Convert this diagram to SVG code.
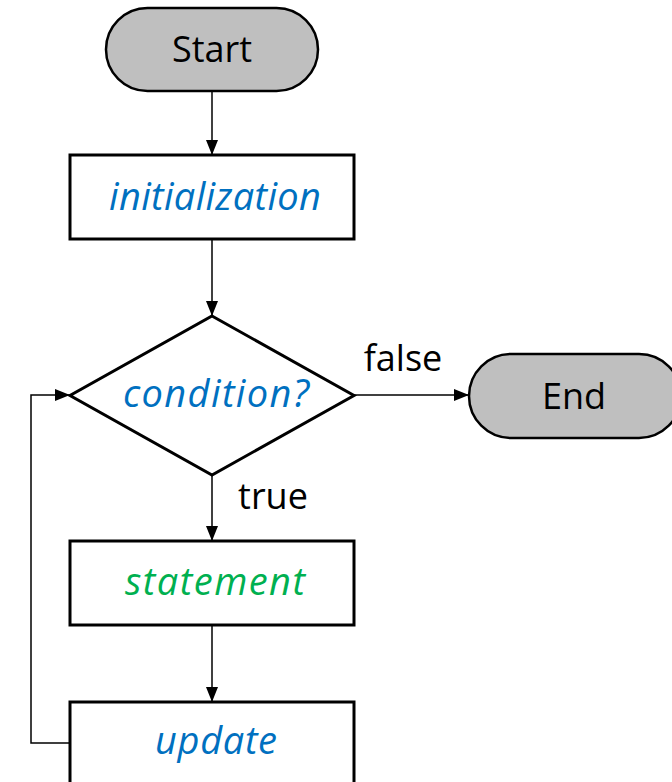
<svg xmlns="http://www.w3.org/2000/svg" width="672" height="782" viewBox="0 0 672 782">
<defs>
<marker id="arr" viewBox="0 0 15 12" refX="15" refY="6" markerWidth="15" markerHeight="12" markerUnits="userSpaceOnUse" orient="auto">
<path d="M0,0 L15,6 L0,12 Z" fill="#000"/>
</marker>
<style>
.term{fill:#BFBFBF;stroke:#000;stroke-width:2.5}
.box{fill:#fff;stroke:#000;stroke-width:3}
.lbl{font-family:"Open Sans","Noto Sans",sans-serif;font-size:36px;text-anchor:middle;fill:#000}
.it{font-style:italic;font-size:38px}
.blue{fill:#0070C0}
.green{fill:#00B050}
.edge{fill:none;stroke:#000;stroke-width:1.5;marker-end:url(#arr)}
</style>
</defs>
<rect width="672" height="782" fill="#fff"/>
<g id="connectors">
<line class="edge" x1="212" y1="91" x2="212" y2="155"/>
<line class="edge" x1="212" y1="239" x2="212" y2="316"/>
<line class="edge" x1="354" y1="395" x2="469" y2="395"/>
<line class="edge" x1="212" y1="475" x2="212" y2="541"/>
<line class="edge" x1="212" y1="625" x2="212" y2="702"/>
<polyline class="edge" points="70,743 31,743 31,395 70,395"/>
<text class="lbl" x="403" y="371">false</text>
<text class="lbl" x="273" y="509">true</text>
</g>
<g id="start">
<rect class="term" x="106" y="8" width="212" height="83" rx="41.5"/>
<text class="lbl" x="212" y="62">Start</text>
</g>
<g id="init">
<rect class="box" x="70" y="155" width="284" height="84"/>
<text class="lbl it blue" x="215" y="210" textLength="212" lengthAdjust="spacing">initialization</text>
</g>
<g id="cond">
<polygon class="box" points="212,316 354,395.5 212,475 70,395.5"/>
<text class="lbl it blue" x="216" y="407" textLength="186" lengthAdjust="spacing">condition?</text>
</g>
<g id="end">
<rect class="term" x="469" y="354" width="212" height="84" rx="42"/>
<text class="lbl" x="574" y="409">End</text>
</g>
<g id="statement">
<rect class="box" x="70" y="541" width="284" height="84"/>
<text class="lbl it green" x="215" y="595" textLength="180" lengthAdjust="spacing">statement</text>
</g>
<g id="update">
<rect class="box" x="70" y="702" width="284" height="84"/>
<text class="lbl it blue" x="216" y="754" textLength="122" lengthAdjust="spacing">update</text>
</g>
</svg>
